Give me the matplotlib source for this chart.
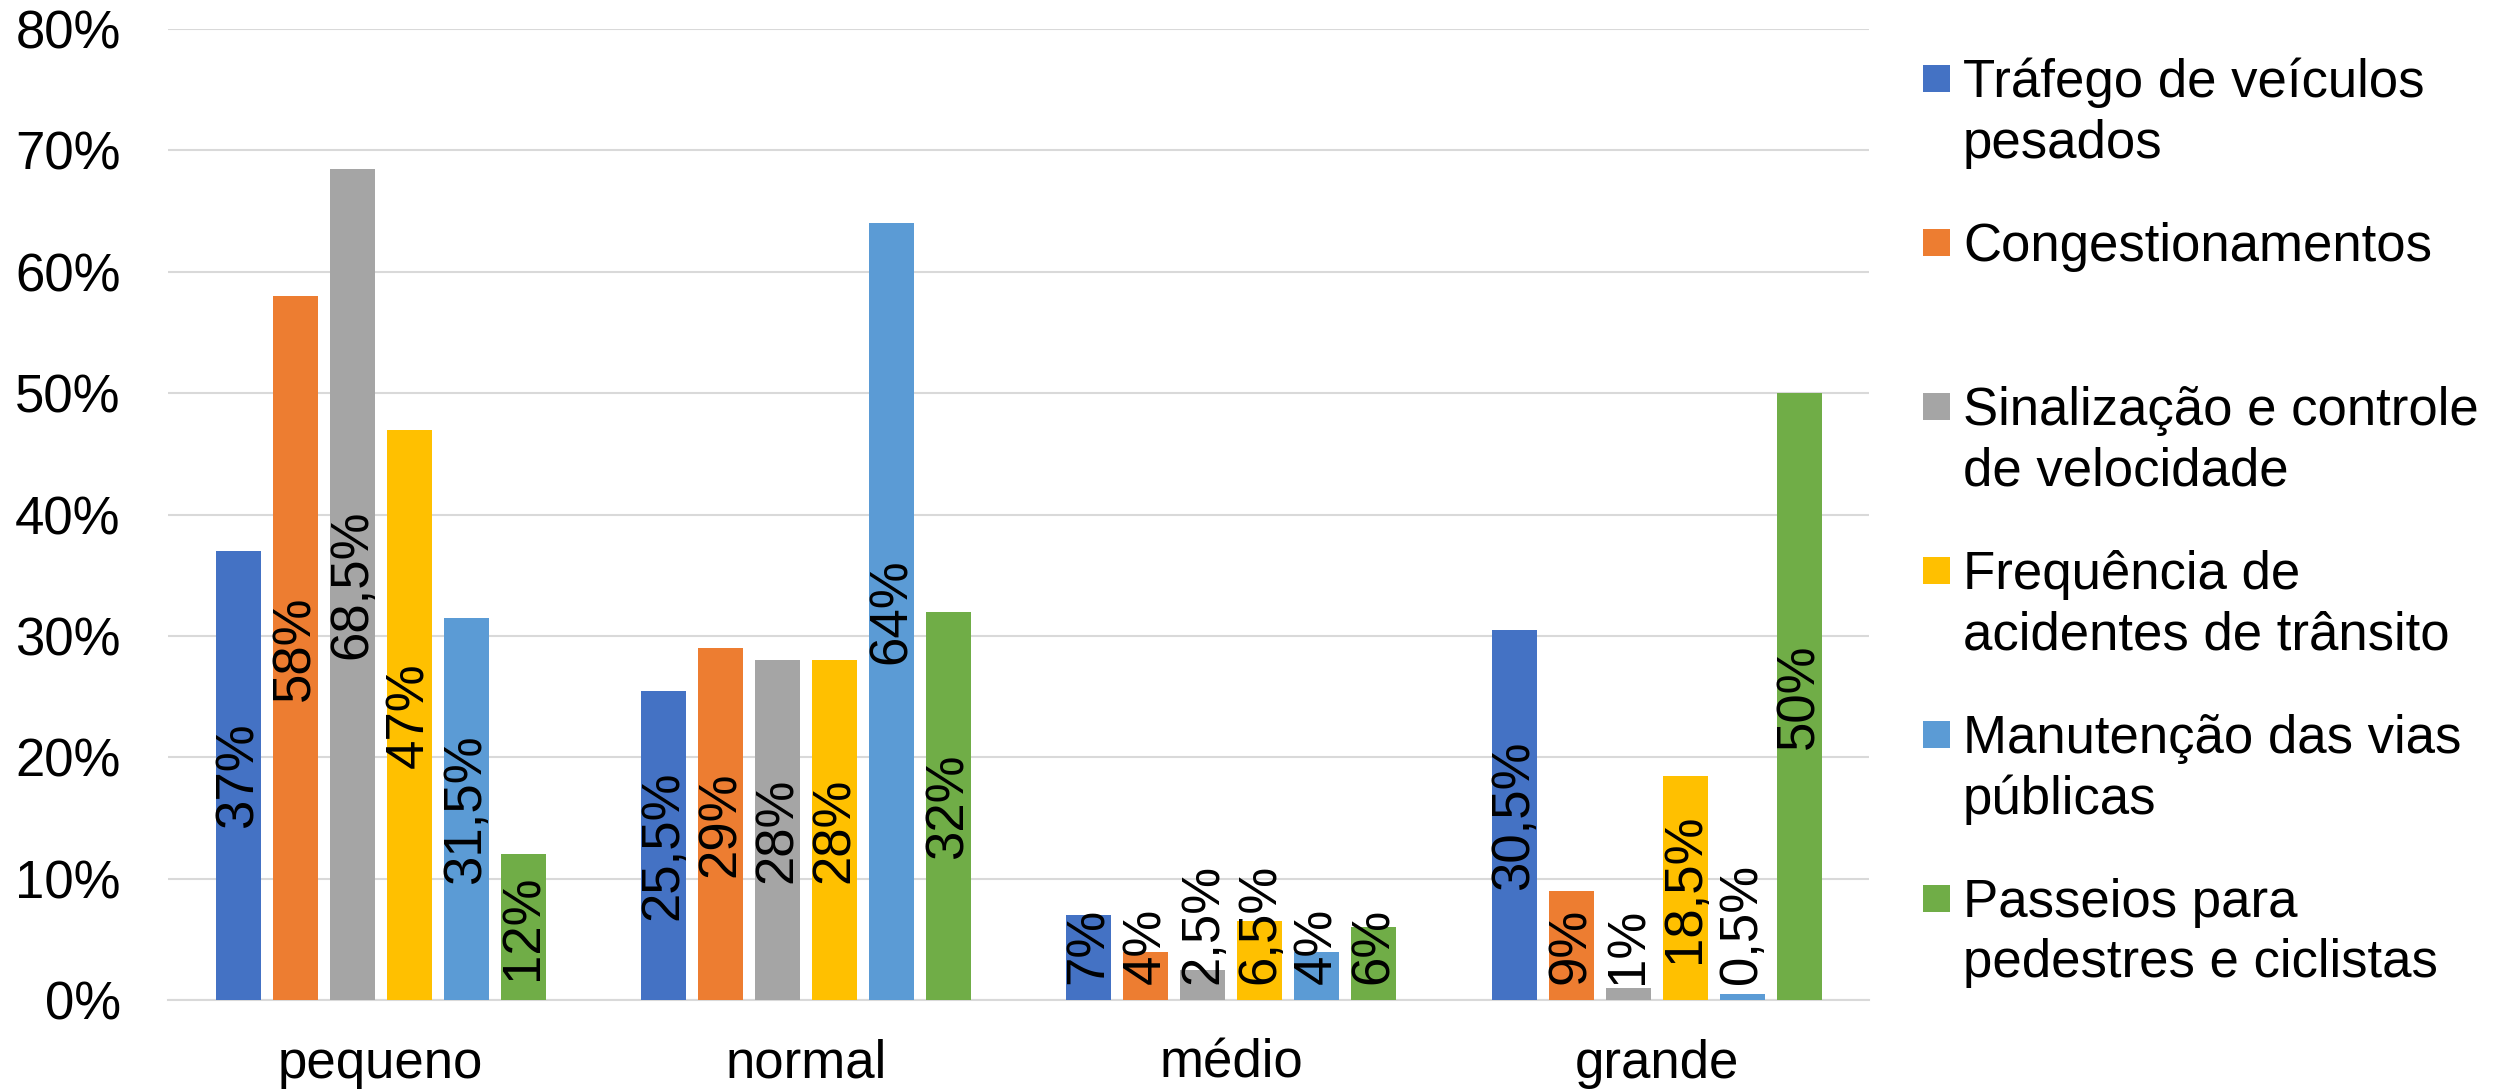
import numpy as np
import matplotlib
matplotlib.use("Agg")
import matplotlib.pyplot as plt
from matplotlib.patches import Rectangle

plt.rcParams["font.family"] = ["Liberation Sans", "DejaVu Sans"]

categories = ["pequeno", "normal", "médio", "grande"]
series = [
    "Tráfego de veículos\npesados",
    "Congestionamentos",
    "Sinalização e controle\nde velocidade",
    "Frequência de\nacidentes de trânsito",
    "Manutenção das vias\npúblicas",
    "Passeios para\npedestres e ciclistas",
]
trafego = [37, 25.5, 7, 30.5]
congestionamentos = [58, 29, 4, 9]
sinalizacao = [68.5, 28, 2.5, 1]
frequencia = [47, 28, 6.5, 18.5]
manutencao = [31.5, 64, 4, 0.5]
passeios = [12, 32, 6, 50]
values = [trafego, congestionamentos, sinalizacao, frequencia, manutencao, passeios]
colors = ["#4472C4", "#ED7D31", "#A5A5A5", "#FFC000", "#5B9BD5", "#70AD47"]


def fmt(v):
    s = f"{v:g}".replace(".", ",")
    return s + "%"


fig = plt.figure(figsize=(25.06, 10.92), dpi=100)
ax = fig.add_axes([0.067, 0.0842, 0.679, 0.8892])

x = np.arange(len(categories))
width = 0.106
pitch = 0.134
fs = 38

labels = []
for i, (vals, col) in enumerate(zip(values, colors)):
    pos = x + (i - 2.5) * pitch
    ax.bar(pos, vals, width=width, color=col, zorder=3)
    for px, v in zip(pos, vals):
        t = ax.text(px, v / 2, fmt(v), rotation=90, ha="center", va="center",
                    fontsize=fs, color="black", zorder=4)
        labels.append(t)

ax.set_xlim(-0.5, 3.5)
ax.set_ylim(0, 80)
ax.set_yticks(range(0, 81, 10))
ax.set_yticklabels([f"{v}%" for v in range(0, 81, 10)])
ax.set_xticks(x)
ax.set_xticklabels(categories)
ax.tick_params(axis="both", length=0, labelsize=fs)
ax.tick_params(axis="y", pad=34)
ax.tick_params(axis="x", pad=28)
ax.grid(axis="y", color="#D9D9D9", linewidth=1.5, zorder=0)
for s in ["top", "right", "left"]:
    ax.spines[s].set_visible(False)
ax.spines["bottom"].set_color("#D9D9D9")
ax.spines["bottom"].set_linewidth(1.5)

# push labels of short bars up so they don't fall below the axis
fig.canvas.draw()
inv = ax.transData.inverted()
for t in labels:
    bb = t.get_window_extent()
    bottom = inv.transform((0, bb.y0))[1]
    if bottom < 1.3:
        px, py = t.get_position()
        t.set_position((px, py + 1.3 - bottom))

# legend drawn by hand to keep Excel-like spacing
W, H = 2506, 1092
for i, (lab, col) in enumerate(zip(series, colors)):
    top = 58 + 164 * i
    fig.patches.append(Rectangle((1923 / W, 1 - (top + 34) / H), 27 / W, 27 / H,
                                 transform=fig.transFigure, facecolor=col,
                                 edgecolor="none"))
    fig.text(1963 / W, 1 - top / H, lab, fontsize=fs, va="top",
             linespacing=1.26, transform=fig.transFigure)

fig.savefig("out.png", dpi=100)
